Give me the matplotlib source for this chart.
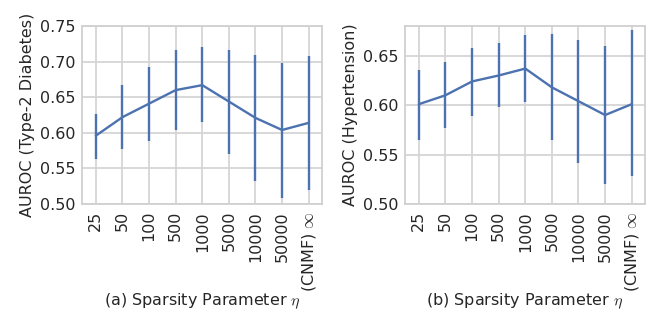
import numpy as np
import matplotlib
matplotlib.use("Agg")
import matplotlib.pyplot as plt
import seaborn as sns

sns.set_style("whitegrid")
plt.rcParams['font.family'] = ['DejaVu Sans']
plt.rcParams['mathtext.fontset'] = 'cm'

eta_labels = ["25", "50", "100", "500", "1000", "5000", "10000", "50000", "(CNMF) $\\infty$"]

t2d_mean = [0.596, 0.622, 0.641, 0.660, 0.667, 0.644, 0.621, 0.604, 0.614]
t2d_lo = [0.563, 0.577, 0.589, 0.604, 0.615, 0.570, 0.533, 0.509, 0.519]
t2d_hi = [0.626, 0.667, 0.692, 0.716, 0.720, 0.717, 0.709, 0.698, 0.708]

hyp_mean = [0.601, 0.610, 0.624, 0.630, 0.637, 0.618, 0.604, 0.590, 0.601]
hyp_lo = [0.565, 0.577, 0.589, 0.598, 0.603, 0.565, 0.541, 0.520, 0.528]
hyp_hi = [0.636, 0.644, 0.658, 0.663, 0.671, 0.672, 0.666, 0.660, 0.676]

blue = "#4C72B0"
fs = 11.5

fig = plt.figure(figsize=(6.64, 3.32), dpi=100)
ax1 = fig.add_axes([0.1235, 0.3855, 0.3614, 0.536])
ax2 = fig.add_axes([0.61, 0.3855, 0.3614, 0.536])

def panel(ax, mean, lo, hi, ylabel, xlabel, ylim, yticks):
    x = np.arange(len(mean))
    mean = np.array(mean)
    err = [mean - np.array(lo), np.array(hi) - mean]
    ax.errorbar(x, mean, yerr=err, color=blue, lw=1.7, elinewidth=1.7, capsize=0)
    ax.set_xlim(-0.52, len(mean) - 0.5)
    ax.set_ylim(*ylim)
    ax.set_yticks(yticks)
    ax.set_yticklabels(["%.2f" % v for v in yticks], fontsize=fs)
    ax.set_xticks(x)
    ax.set_xticklabels(eta_labels, rotation=90, fontsize=fs)
    ax.set_ylabel(ylabel, fontsize=fs, labelpad=3)
    ax.set_xlabel(xlabel, fontsize=fs, labelpad=0)
    ax.tick_params(colors="#262626", length=0, pad=5)
    ax.grid(True, color="#d5d5d5", lw=1.3)
    for s in ax.spines.values():
        s.set_color("#d0d0d0")
        s.set_linewidth(1.3)

panel(ax1, t2d_mean, t2d_lo, t2d_hi, "AUROC (Type-2 Diabetes)",
      "(a) Sparsity Parameter $\\eta$", (0.5, 0.75), [0.50, 0.55, 0.60, 0.65, 0.70, 0.75])
panel(ax2, hyp_mean, hyp_lo, hyp_hi, "AUROC (Hypertension)",
      "(b) Sparsity Parameter $\\eta$", (0.5, 0.68), [0.50, 0.55, 0.60, 0.65])

fig.savefig("out.png", dpi=100)
